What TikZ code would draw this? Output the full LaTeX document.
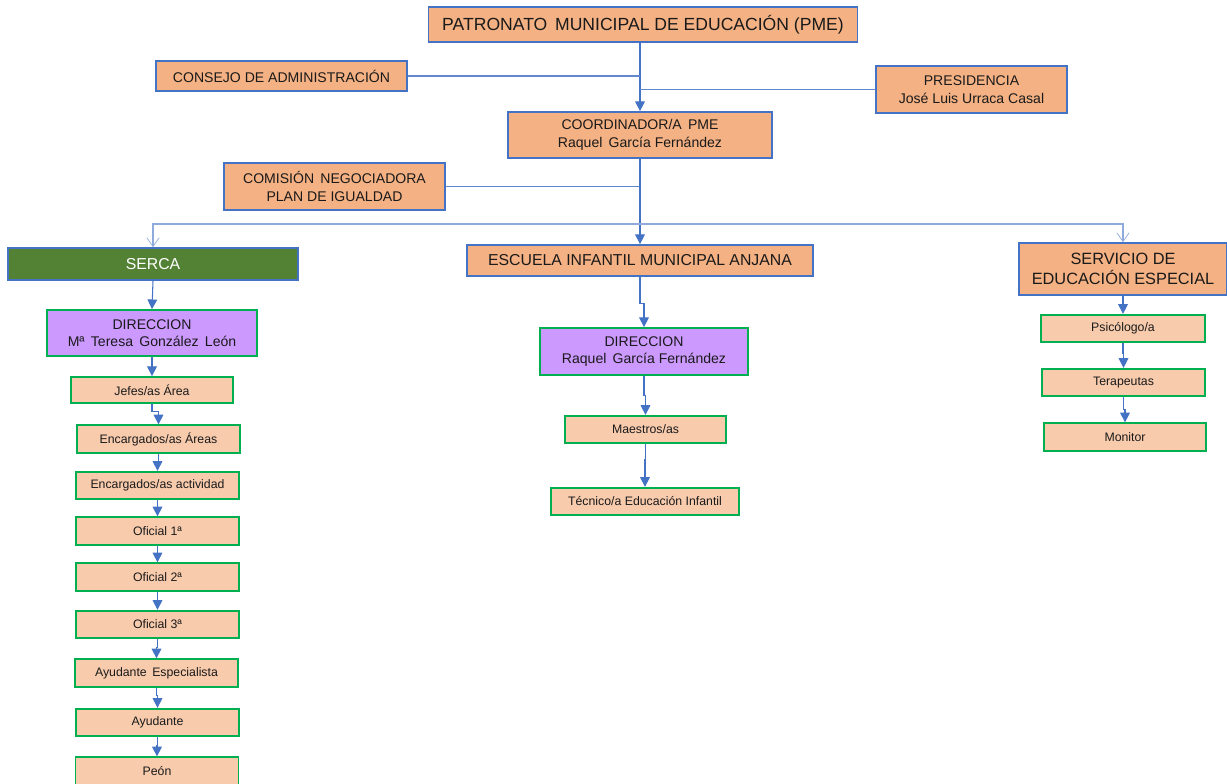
\documentclass[tikz,border=0pt]{standalone}
\usepackage{fontspec}
\setmainfont{Liberation Sans}
\usetikzlibrary{arrows.meta}
\definecolor{orangeA}{HTML}{F4B183}
\definecolor{orangeB}{HTML}{F8CBAD}
\definecolor{boxblue}{HTML}{4472C4}
\definecolor{boxgreen}{HTML}{00B050}
\definecolor{lilac}{HTML}{CC99FF}
\definecolor{sercagreen}{HTML}{548235}
\definecolor{buslight}{HTML}{8FAADC}
\definecolor{inktext}{HTML}{1A1A1A}

\tikzset{
  topbox/.style={draw=boxblue, fill=orangeA, line width=1pt, inner sep=0pt,
    align=center, text=inktext, font=\fontsize{8}{10}\selectfont},
  smallbox/.style={draw=boxgreen, fill=orangeB, line width=1pt, inner sep=0pt,
    align=center, text=inktext, font=\fontsize{7}{8.5}\selectfont,
    minimum width=3.26cm, minimum height=0.55cm},
  dirbox/.style={smallbox, fill=lilac, font=\fontsize{8}{10}\selectfont},
  arr/.style={draw=boxblue, line width=0.6pt, -{Triangle[width=5.5pt,length=5.5pt]}},
  link/.style={draw=boxblue!85, line width=0.6pt},
  openarr/.style={draw=buslight, line width=0.6pt, -{Straight Barb[width=7pt,length=5pt,line width=0.4pt]}}
}

\begin{document}
\begin{tikzpicture}[x=0.02cm, y=-0.02cm]
  \useasboundingbox (0,0) rectangle (1227,784);

  % top of the chart
  \node[topbox, minimum width=8.58cm, minimum height=0.70cm, font=\fontsize{10}{12}\selectfont]
    (pme) at (643,24.5) {PATRONATO\, MUNICIPAL DE EDUCACIÓN (PME)};
  \node[topbox, minimum width=5.02cm, minimum height=0.60cm] (consejo) at (281.5,76)
    {CONSEJO DE ADMINISTRACIÓN};
  \node[topbox, minimum width=3.82cm, minimum height=0.94cm] (presid) at (971.5,89.5)
    {PRESIDENCIA\\José Luis Urraca Casal};
  \node[topbox, minimum width=5.28cm, minimum height=0.92cm] (coord) at (640,135)
    {COORDINADOR/A\, PME\\Raquel\, García Fernández};
  \node[topbox, minimum width=4.42cm, minimum height=0.94cm] (comision) at (334.5,186.5)
    {COMISIÓN\, NEGOCIADORA\\PLAN DE IGUALDAD};

  \draw[arr] (coord.north |- pme.south) -- (coord.north);
  \draw[link] (consejo.east) -- (consejo.east -| coord.north);
  \draw[link] (presid.west) -- (presid.west -| coord.north);
  \draw[link] (comision.east) -- (comision.east -| coord.south);

  % the three services
  \node[topbox, fill=sercagreen, text=white, minimum width=5.80cm, minimum height=0.64cm,
    font=\fontsize{9}{11}\selectfont] (serca) at (153,264) {SERCA};
  \node[topbox, minimum width=6.92cm, minimum height=0.62cm, font=\fontsize{9}{11}\selectfont]
    (escuela) at (640,260.5) {ESCUELA INFANTIL MUNICIPAL ANJANA};
  \node[topbox, minimum width=4.16cm, minimum height=1.04cm, font=\fontsize{9.3}{11.5}\selectfont]
    (servicio) at (1123,269) {SERVICIO DE\\EDUCACIÓN ESPECIAL};

  \coordinate (bus) at (640,224);
  \draw[arr] (coord.south) -- (escuela.north);
  \draw[openarr] (bus) -| (serca.north);
  \draw[openarr] (bus) -| (servicio.north);

  % SERCA
  \node[dirbox, minimum width=4.20cm, minimum height=0.92cm] (sdir) at (152,333)
    {DIRECCION\\Mª\, Teresa\, González\, León};
  \node[smallbox, minimum width=3.24cm, minimum height=0.52cm] (jefes) at (152,390) {Jefes/as Área};
  \node[smallbox] (encar) at (158.5,439) {Encargados/as Áreas};
  \node[smallbox] (encact) at (157.5,485.5) {Encargados/as actividad};
  \node[smallbox] (of1) at (157.5,531) {Oficial 1ª};
  \node[smallbox] (of2) at (157.5,577) {Oficial 2ª};
  \node[smallbox] (of3) at (157.5,624.5) {Oficial 3ª};
  \node[smallbox] (ayesp) at (156.5,673) {Ayudante\, Especialista};
  \node[smallbox] (ayud) at (157.5,722.5) {Ayudante};
  \node[smallbox] (peon) at (157,771) {Peón};

  \draw[arr] (serca.south) -- (sdir.north);
  \foreach \a/\b in {sdir/jefes, jefes/encar, encar/encact, encact/of1, of1/of2,
                     of2/of3, of3/ayesp, ayesp/ayud, ayud/peon}
    \draw[arr] (\a.south) -- ++(0,8) -| (\b.north);

  % Escuela Infantil
  \node[dirbox, minimum width=4.16cm, minimum height=0.94cm] (edir) at (644,351.5)
    {DIRECCION\\Raquel\, García Fernández};
  \node[smallbox, minimum width=3.22cm] (maestros) at (645.5,429.5) {Maestros/as};
  \node[smallbox, minimum width=3.76cm] (tecnico) at (645,501.5) {Técnico/a Educación Infantil};

  \draw[arr] (escuela.south) -- ++(0,27) -| (edir.north);
  \draw[arr] (edir.south) -- ++(0,20) -| (maestros.north);
  \draw[arr] (maestros.south) -- ++(0,15) -| (tecnico.north);

  % Educacion especial
  \node[smallbox, minimum width=3.28cm] (psico) at (1123,328.5) {Psicólogo/a};
  \node[smallbox] (terap) at (1123.5,382.5) {Terapeutas};
  \node[smallbox, minimum width=3.24cm] (monitor) at (1125,437) {Monitor};

  \draw[arr] (servicio.south) -- (servicio.south |- psico.north);
  \draw[arr] (psico.south) -- ++(0,10) -| (terap.north);
  \draw[arr] (terap.south) -- ++(0,12) -| (monitor.north);
\end{tikzpicture}
\end{document}
